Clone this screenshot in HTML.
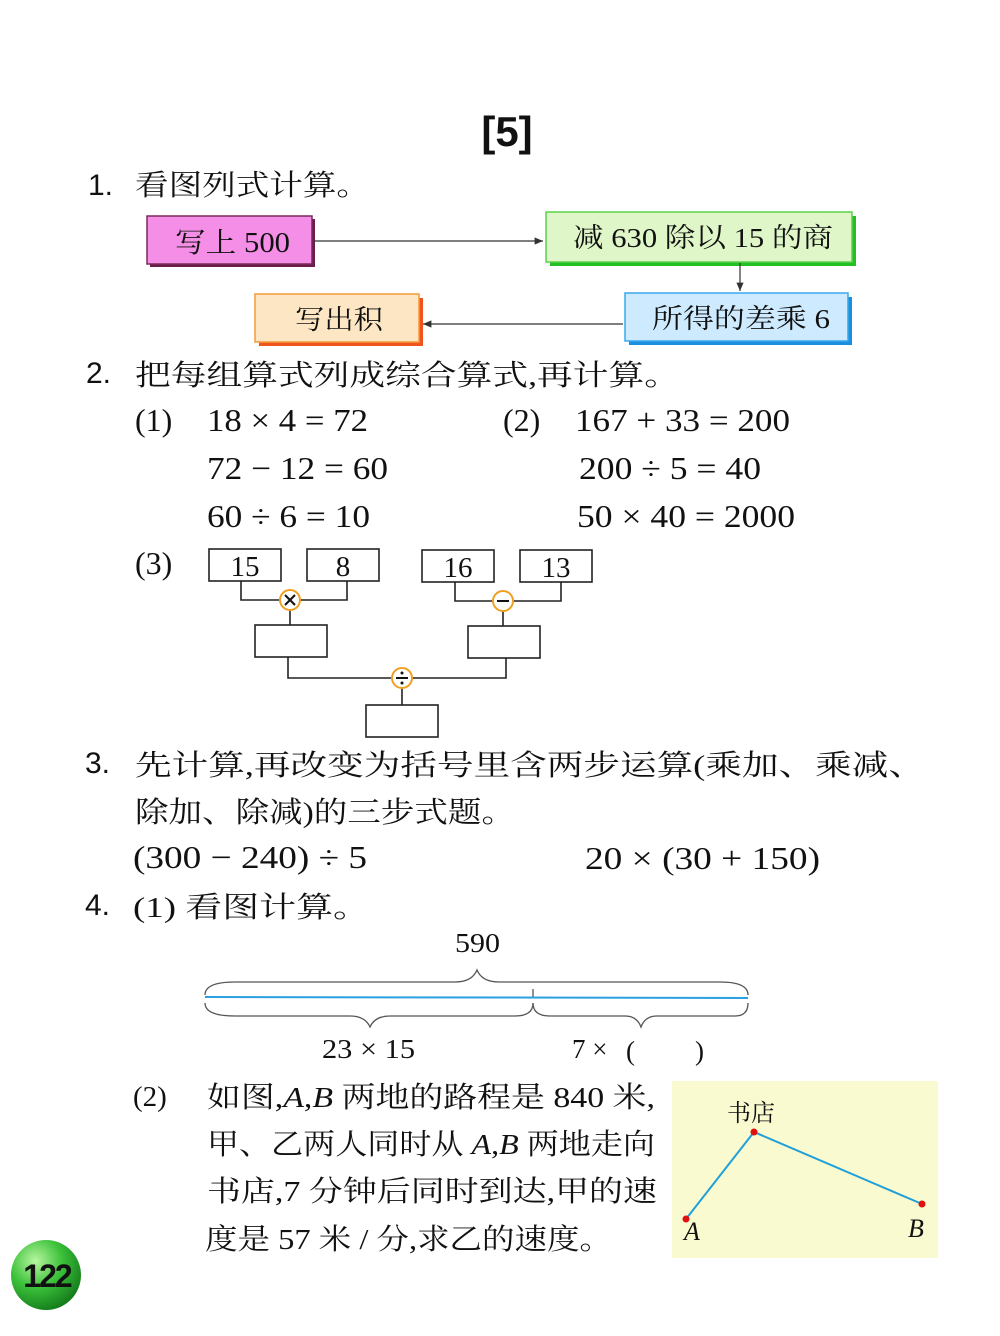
<!DOCTYPE html>
<html><head><meta charset="utf-8"><style>
html,body{margin:0;padding:0;background:#fff;}
svg{display:block;}
text{font-family:"Liberation Serif","Noto Serif CJK SC","Noto Sans CJK SC",serif;fill:#111;}
text.sans{font-family:"Liberation Sans",sans-serif;}
</style></head><body>
<svg width="1000" height="1336" viewBox="0 0 1000 1336" xmlns="http://www.w3.org/2000/svg">
<defs>
<marker id="ar" markerWidth="8" markerHeight="8" refX="7" refY="4" orient="auto"><path d="M0,1 L7,4 L0,7 z" fill="#333"/></marker>
<radialGradient id="gb" cx="0.35" cy="0.3" r="0.75"><stop offset="0" stop-color="#b8f5a0"/><stop offset="0.5" stop-color="#3cc23a"/><stop offset="1" stop-color="#137a1a"/></radialGradient>
</defs>
<text class="sans" x="507" y="146" font-size="42" font-weight="bold" text-anchor="middle">[5]</text>

<text class="sans" x="88" y="195" font-size="30">1.</text>
<text x="135" y="195" font-size="29" textLength="235" lengthAdjust="spacingAndGlyphs">看图列式计算。</text>

<rect x="150" y="219" width="165" height="48" fill="#6b1d4a"/>
<rect x="147" y="216" width="165" height="48" fill="#f58ee6" stroke="#7a2a5a" stroke-width="1.5"/>
<text x="175" y="252" font-size="28" textLength="115" lengthAdjust="spacingAndGlyphs">写上 500</text>

<rect x="550" y="216" width="306" height="50" fill="#22c022"/>
<rect x="546" y="212" width="306" height="50" fill="#dff6c8" stroke="#5bd04a" stroke-width="1.5"/>
<text x="573" y="247" font-size="27" textLength="260" lengthAdjust="spacingAndGlyphs">减 630 除以 15 的商</text>

<rect x="629" y="297" width="223" height="48" fill="#1a8fe0"/>
<rect x="625" y="293" width="223" height="48" fill="#cdeaff" stroke="#38a8ee" stroke-width="1.5"/>
<text x="652" y="328" font-size="27" textLength="178" lengthAdjust="spacingAndGlyphs">所得的差乘 6</text>

<rect x="259" y="298" width="164" height="48" fill="#f0541e"/>
<rect x="255" y="294" width="164" height="48" fill="#fde6c4" stroke="#f49a3a" stroke-width="1.5"/>
<text x="295" y="329" font-size="27" textLength="88" lengthAdjust="spacingAndGlyphs">写出积</text>

<line x1="314" y1="241" x2="543" y2="241" stroke="#333" stroke-width="1.2" marker-end="url(#ar)"/>
<line x1="740" y1="263" x2="740" y2="291" stroke="#333" stroke-width="1.2" marker-end="url(#ar)"/>
<line x1="623" y1="324" x2="423" y2="324" stroke="#333" stroke-width="1.2" marker-end="url(#ar)"/>

<text class="sans" x="86" y="383" font-size="30">2.</text>
<text x="135" y="385" font-size="29" textLength="545" lengthAdjust="spacingAndGlyphs">把每组算式列成综合算式,再计算。</text>

<g font-size="32">
<text x="135" y="431">(1)</text><text x="207" y="431" textLength="161" lengthAdjust="spacingAndGlyphs">18 × 4 = 72</text>
<text x="207" y="479" textLength="181" lengthAdjust="spacingAndGlyphs">72 − 12 = 60</text>
<text x="207" y="527" textLength="163" lengthAdjust="spacingAndGlyphs">60 ÷ 6 = 10</text>
<text x="503" y="431">(2)</text><text x="575" y="431" textLength="215" lengthAdjust="spacingAndGlyphs">167 + 33 = 200</text>
<text x="579" y="479" textLength="182" lengthAdjust="spacingAndGlyphs">200 ÷ 5 = 40</text>
<text x="577" y="527" textLength="218" lengthAdjust="spacingAndGlyphs">50 × 40 = 2000</text>
<text x="135" y="574">(3)</text>
</g>

<g fill="none" stroke="#222" stroke-width="1.6">
<rect x="209" y="549" width="72" height="32" fill="#fff"/>
<rect x="307" y="549" width="72" height="32" fill="#fff"/>
<rect x="422" y="550" width="72" height="32" fill="#fff"/>
<rect x="520" y="550" width="72" height="32" fill="#fff"/>
<rect x="255" y="625" width="72" height="32"/>
<rect x="468" y="626" width="72" height="32"/>
<rect x="366" y="705" width="72" height="32"/>
<polyline points="241,581 241,600 347,600 347,581"/>
<polyline points="455,582 455,601 561,601 561,582"/>
<line x1="290" y1="610" x2="290" y2="625"/>
<line x1="503" y1="611" x2="503" y2="626"/>
<polyline points="288,657 288,678 506,678 506,658"/>
<line x1="402" y1="688" x2="402" y2="705"/>
</g>
<g font-size="29" text-anchor="middle">
<text x="245" y="576">15</text><text x="343" y="576">8</text>
<text x="458" y="577">16</text><text x="556" y="577">13</text>
</g>
<g stroke="#f0a020" stroke-width="2" fill="#fff">
<circle cx="290" cy="600" r="10"/><circle cx="503" cy="601" r="10"/><circle cx="402" cy="678" r="10"/>
</g>
<g stroke="#111" stroke-width="2">
<line x1="285" y1="595" x2="295" y2="605"/><line x1="295" y1="595" x2="285" y2="605"/>
<line x1="497" y1="601" x2="509" y2="601"/>
<line x1="396" y1="678" x2="408" y2="678"/>
</g>
<circle cx="402" cy="673" r="1.5" fill="#111"/><circle cx="402" cy="683" r="1.5" fill="#111"/>

<text class="sans" x="85" y="773" font-size="30">3.</text>
<text x="135" y="775" font-size="29" textLength="790" lengthAdjust="spacingAndGlyphs">先计算,再改变为括号里含两步运算(乘加、乘减、</text>
<text x="135" y="822" font-size="29" textLength="380" lengthAdjust="spacingAndGlyphs">除加、除减)的三步式题。</text>
<g font-size="32">
<text x="133" y="868" textLength="234" lengthAdjust="spacingAndGlyphs">(300 − 240) ÷ 5</text>
<text x="585" y="869" textLength="235" lengthAdjust="spacingAndGlyphs">20 × (30 + 150)</text>
</g>

<text class="sans" x="85" y="915" font-size="30">4.</text>
<text x="133" y="917" font-size="29" textLength="237" lengthAdjust="spacingAndGlyphs">(1) 看图计算。</text>

<text x="455" y="952" font-size="27" textLength="45" lengthAdjust="spacingAndGlyphs">590</text>
<g fill="none" stroke="#555" stroke-width="1.3">
<path d="M205,995 Q205,982 235,982 L455,982 Q472,982 477,970 Q482,982 499,982 L720,982 Q748,982 748,995"/>
<path d="M205,1003 Q205,1016 235,1016 L350,1016 Q365,1016 370,1027 Q375,1016 390,1016 L515,1016 Q533,1016 533,1003"/>
<path d="M533,1003 Q533,1016 550,1016 L625,1016 Q637,1016 641,1027 Q645,1016 657,1016 L735,1016 Q748,1016 748,1003"/>
<line x1="533" y1="989" x2="533" y2="998"/>
</g>
<line x1="205" y1="997" x2="748" y2="998" stroke="#2aa0e0" stroke-width="2"/>
<text x="322" y="1058" font-size="27" textLength="93" lengthAdjust="spacingAndGlyphs">23 × 15</text>
<text x="572" y="1058" font-size="27">7 ×</text>
<text x="626" y="1060" font-size="27">(</text>
<text x="695" y="1060" font-size="27">)</text>

<g font-size="29">
<text x="133" y="1106">(2)</text>
<text x="207" y="1107" textLength="448" lengthAdjust="spacingAndGlyphs">如图,<tspan font-style="italic">A</tspan>,<tspan font-style="italic">B</tspan> 两地的路程是 840 米,</text>
<text x="207" y="1154" textLength="448" lengthAdjust="spacingAndGlyphs">甲、乙两人同时从 <tspan font-style="italic">A</tspan>,<tspan font-style="italic">B</tspan> 两地走向</text>
<text x="207" y="1201" textLength="450" lengthAdjust="spacingAndGlyphs">书店,7 分钟后同时到达,甲的速</text>
<text x="205" y="1249" textLength="407" lengthAdjust="spacingAndGlyphs">度是 57 米 / 分,求乙的速度。</text>
</g>

<rect x="672" y="1081" width="266" height="177" fill="#fafad0"/>
<text x="727" y="1121" font-size="24">书店</text>
<polyline points="686,1219 754,1132 922,1204" fill="none" stroke="#20a0d8" stroke-width="2"/>
<circle cx="754" cy="1132" r="3.5" fill="#e01010"/>
<circle cx="686" cy="1219" r="3.5" fill="#e01010"/>
<circle cx="922" cy="1204" r="3.5" fill="#e01010"/>
<text x="684" y="1240" font-size="26" font-style="italic">A</text>
<text x="908" y="1237" font-size="26" font-style="italic">B</text>

<circle cx="46" cy="1275" r="35" fill="url(#gb)"/>
<text class="sans" x="47" y="1287" font-size="32" font-weight="bold" text-anchor="middle" letter-spacing="-2">122</text>
</svg>
</body></html>
